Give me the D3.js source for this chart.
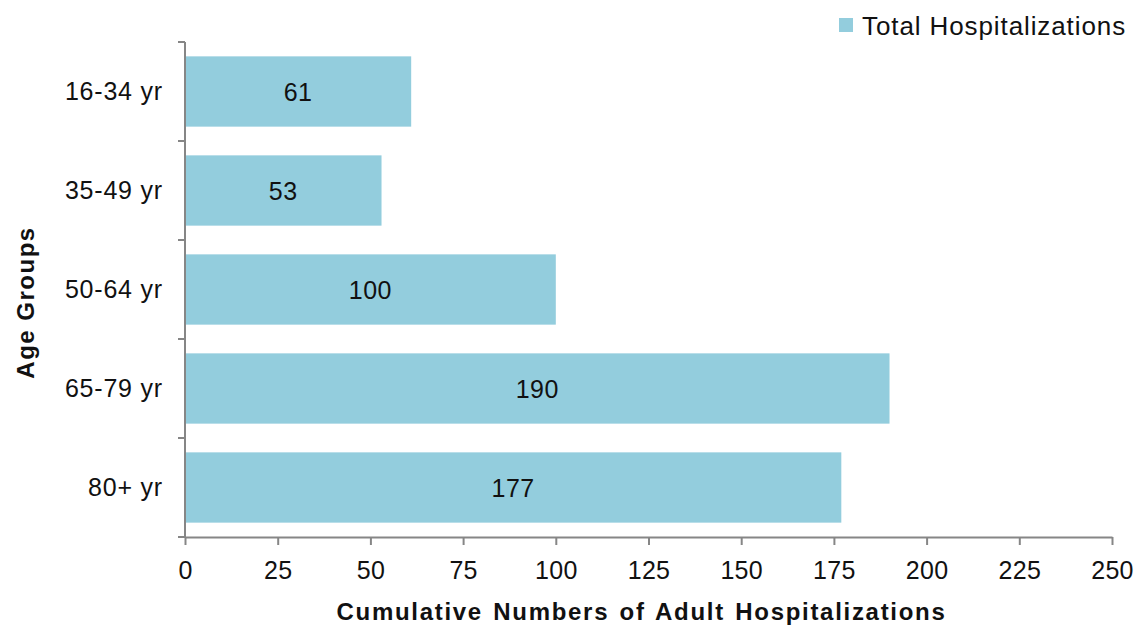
<!DOCTYPE html>
<html>
<head>
<meta charset="utf-8">
<script src="https://cdn.jsdelivr.net/npm/d3@7"></script>
<style>
  html, body { margin: 0; padding: 0; background: #fff; }
  svg { display: block; font-family: "Liberation Sans", Arial, sans-serif; }
</style>
</head>
<body>
<svg id="chart" width="1136" height="628"></svg>
<script>
// Age groups and cumulative adult hospitalizations
const ageGroups = ["16-34 yr", "35-49 yr", "50-64 yr", "65-79 yr", "80+ yr"];
const hospitalizations = [61, 53, 100, 190, 177];
const xTicks = [0, 25, 50, 75, 100, 125, 150, 175, 200, 225, 250];
const seriesName = "Total Hospitalizations";

const svg = d3.select("#chart");
const margin = { left: 185, right: 24, top: 42, bottom: 91 };
const W = 1136, H = 628;

const x = d3.scaleLinear().domain([0, 250]).range([margin.left, W - margin.right]);
const y = d3.scaleBand().domain(ageGroups).range([margin.top, H - margin.bottom]).paddingInner(0.29).paddingOuter(0.145);

const barColor = "#93cddd";
const axisColor = "#868686";
const textColor = "#111";

// Bars
svg.append("g").selectAll("rect").data(ageGroups).join("rect")
  .attr("x", x(0))
  .attr("y", d => y(d))
  .attr("width", (d, i) => x(hospitalizations[i]) - x(0))
  .attr("height", y.bandwidth())
  .attr("fill", barColor);

// Value labels centred in each bar
svg.append("g").selectAll("text").data(ageGroups).join("text")
  .attr("x", (d, i) => (x(0) + x(hospitalizations[i])) / 2)
  .attr("y", d => y(d) + y.bandwidth() / 2)
  .attr("dy", "0.36em")
  .attr("text-anchor", "middle")
  .attr("font-size", 25)
  .attr("letter-spacing", 0.5)
  .attr("fill", textColor)
  .text((d, i) => hospitalizations[i]);

// X axis
const xAxis = svg.append("g")
  .attr("transform", `translate(0,${H - margin.bottom})`)
  .call(d3.axisBottom(x).tickValues(xTicks).tickSize(8).tickSizeOuter(0).tickPadding(16));
xAxis.select(".domain").attr("stroke", axisColor).attr("stroke-width", 2);
xAxis.selectAll(".tick line").attr("stroke", axisColor).attr("stroke-width", 2);
xAxis.selectAll(".tick text").attr("font-size", 25).attr("letter-spacing", 0.3).attr("fill", textColor)
  .attr("font-family", "Liberation Sans, Arial, sans-serif");

// Y axis: ticks mark the category boundaries
const yAxisG = svg.append("g").attr("transform", `translate(${x(0)},0)`);
yAxisG.append("line")
  .attr("x1", 0).attr("x2", 0)
  .attr("y1", margin.top).attr("y2", H - margin.bottom)
  .attr("stroke", axisColor).attr("stroke-width", 2);
const boundaries = d3.range(ageGroups.length + 1).map(i => margin.top + i * (H - margin.top - margin.bottom) / ageGroups.length);
yAxisG.selectAll("line.tk").data(boundaries).join("line")
  .attr("class", "tk")
  .attr("x1", -7).attr("x2", 0)
  .attr("y1", d => d).attr("y2", d => d)
  .attr("stroke", axisColor).attr("stroke-width", 2);
yAxisG.selectAll("text").data(ageGroups).join("text")
  .attr("x", -22)
  .attr("y", d => y(d) + y.bandwidth() / 2)
  .attr("dy", "0.34em")
  .attr("text-anchor", "end")
  .attr("font-size", 25)
  .attr("letter-spacing", 0.8)
  .attr("fill", textColor)
  .text(d => d);

// Axis titles
svg.append("text")
  .attr("x", (x(0) + x(250)) / 2 - 7)
  .attr("y", 620)
  .attr("text-anchor", "middle")
  .attr("font-size", 24)
  .attr("font-weight", "bold")
  .attr("letter-spacing", 1.7)
  .attr("word-spacing", 2)
  .attr("fill", textColor)
  .text("Cumulative Numbers of Adult Hospitalizations");

svg.append("text")
  .attr("transform", `translate(34,${(margin.top + H - margin.bottom) / 2 + 13}) rotate(-90)`)
  .attr("text-anchor", "middle")
  .attr("font-size", 24)
  .attr("font-weight", "bold")
  .attr("letter-spacing", 1.5)
  .attr("fill", textColor)
  .text("Age Groups");

// Legend
const legend = svg.append("g").attr("transform", "translate(839,18)");
legend.append("rect").attr("width", 14).attr("height", 14).attr("fill", barColor);
legend.append("text")
  .attr("x", 23).attr("y", 17)
  .attr("font-size", 26)
  .attr("letter-spacing", 0.9)
  .attr("fill", textColor)
  .text(seriesName);
</script>
</body>
</html>
